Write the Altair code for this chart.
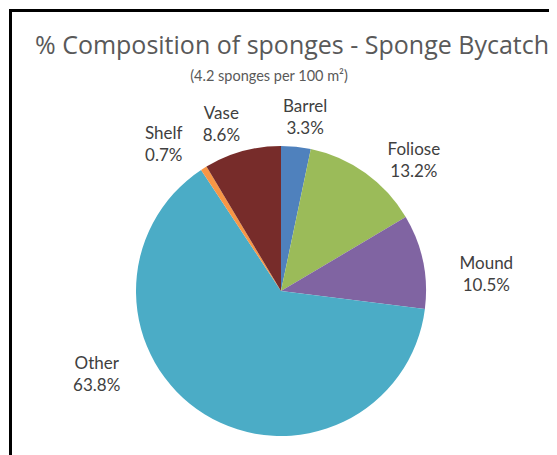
import altair as alt
import pandas as pd

categories = ["Barrel", "Foliose", "Mound", "Other", "Shelf", "Vase"]
values = [3.3, 13.2, 10.5, 63.8, 0.7, 8.6]
colors = ["#4F81BD", "#9BBB59", "#8064A2", "#4BACC6", "#F79646", "#772C2A"]
title_text = "% Composition of sponges - Sponge Bycatch"
subtitle_text = "(4.2 sponges per 100 m\u00b2)"

df = pd.DataFrame({"category": categories, "value": values,
                   "idx": list(range(len(categories)))})
total = float(sum(values))

FONT = "Lato"
CX, CY = 273, 283
theta_scale = alt.Scale(domain=[0, total])
color_scale = alt.Scale(domain=categories, range=colors)

pie = alt.Chart(df).mark_arc(radius=145).encode(
    theta=alt.Theta("value:Q", stack=True, scale=theta_scale),
    color=alt.Color("category:N", scale=color_scale, legend=None),
    order=alt.Order("idx:Q"),
    x=alt.value(CX), y=alt.value(CY),
)

# label offsets (style) relative to the slice mid-angle at radius 175
offsets = {
    "Barrel": (6, -10),
    "Foliose": (31, 1),
    "Mound": (34, 9),
    "Other": (-92, -76),
    "Shelf": (-24, -9),
    "Vase": (-13, -8),
}

lbl_base = alt.Chart(df).transform_window(
    cum="sum(value)", sort=[alt.SortField("idx")]
).transform_calculate(
    mid="datum.cum - datum.value / 2",
    label="datum.category + '\\n' + format(datum.value, '.1f') + '%'",
)

label_layers = []
for cat in categories:
    dx, dy = offsets[cat]
    label_layers.append(
        lbl_base.transform_filter(alt.datum.category == cat).mark_text(
            radius=175, dx=dx, dy=dy, font=FONT, fontSize=17, color="#404040",
            align="center", baseline="middle", lineBreak="\n", lineHeight=22,
        ).encode(
            theta=alt.Theta("mid:Q", scale=theta_scale),
            text="label:N",
            x=alt.value(CX), y=alt.value(CY),
        )
    )

one = pd.DataFrame({"title": [title_text], "subtitle": [subtitle_text]})

frame = alt.Chart(one).mark_rect(fillOpacity=0, stroke="black", strokeWidth=3).encode(
    x=alt.value(2.5), x2=alt.value(800), y=alt.value(2.5), y2=alt.value(800)
)

title = alt.Chart(one).mark_text(
    font="Open Sans", fontSize=25, color="#595959", align="center", baseline="alphabetic"
).encode(text="title:N", x=alt.value(284), y=alt.value(46))

subtitle = alt.Chart(one).mark_text(
    font=FONT, fontSize=14.5, color="#595959", align="center", baseline="alphabetic"
).encode(text="subtitle:N", x=alt.value(261), y=alt.value(73))

chart = alt.layer(frame, pie, *label_layers, title, subtitle).properties(
    width=541, height=447,
    autosize=alt.AutoSizeParams(type="none"),
    padding=0,
    background="white",
).configure_view(strokeWidth=0)

chart.save("out.html", embed_options={"renderer": "svg", "actions": False})
